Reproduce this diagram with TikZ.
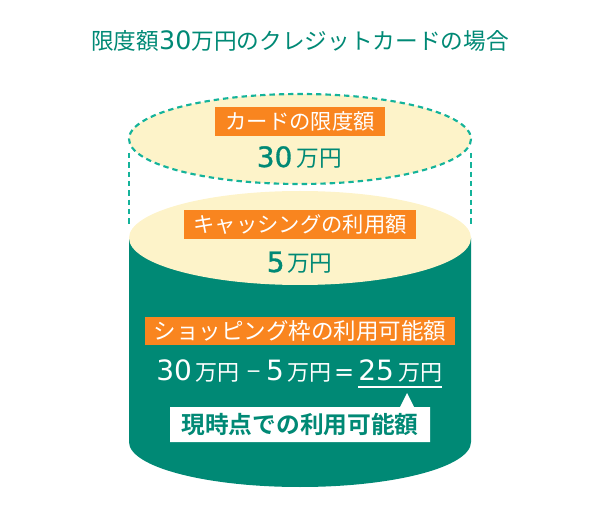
\documentclass[tikz,border=0pt]{standalone}
\usepackage{fontspec}
\setmainfont{Noto Sans CJK JP}
\newfontfamily\jpb{Noto Sans CJK JP Bold}
\newfontfamily\numf{DejaVu Sans}
\newfontfamily\numm[FakeBold=1.1]{DejaVu Sans}
\definecolor{teal1}{HTML}{008975}
\definecolor{dash1}{HTML}{14B39A}
\definecolor{cream}{HTML}{FDF3C9}
\definecolor{orange1}{HTML}{F9851F}
\newcommand{\fs}[1]{\fontsize{#1}{#1}\selectfont}
\tikzset{
  lab/.style={inner sep=0pt,text=white},
  tagbox/.style={fill=orange1,draw=none},
  val/.style={inner sep=0pt,text=teal1},
  dashline/.style={draw=dash1,line width=1.6pt,dash pattern=on 4pt off 3pt}
}
\begin{document}
\begin{tikzpicture}[x=0.75pt,y=-0.75pt]
\useasboundingbox (0,0) rectangle (600,520);
% upper, dashed disc
\path[fill=cream] (300,139) ellipse [x radius=171,y radius=45];
\draw[dashline] (300,139) ellipse [x radius=171,y radius=45];
\draw[dashline] (129,153) -- (129,225);
\draw[dashline] (471,153) -- (471,225);
% cylinder
\path[fill=teal1] (129,238) -- (129,442) arc [start angle=180,end angle=0,x radius=171,y radius=45] -- (471,238) -- cycle;
\path[fill=cream] (300,238) ellipse [x radius=171,y radius=47];
% title
\node[val] (title) at (300,41) {\fs{17}限度額{\numf\fs{19}30}万円のクレジットカードの場合};
% orange tags
\path[tagbox] (215,107) rectangle (385,136);
\node[lab] (t1) at (300,121.5) {\fs{16}カードの限度額};
\node[val,anchor=base west] (v1) at (256.5,167) {\fs{17}{\numm\fs{21}30}\hspace{3pt}万円};
\path[tagbox] (184,210) rectangle (416,239);
\node[lab] (t2) at (300,224.5) {\fs{16}キャッシングの利用額};
\node[val,anchor=base west] (v2) at (266.5,272) {\fs{17}{\numm\fs{21}5}\hspace{2pt}万円};
\path[tagbox] (145,317) rectangle (455,345);
\node[lab] (t3) at (300,331) {\fs{16.9}ショッピング枠の利用可能額};
% equation
\node[lab,anchor=base west] (eq) at (156,380) {\fs{16.5}{\numf\fs{21}30}\hspace{3pt}万円\hspace{4.5pt}{\numf\fs{14}\raisebox{1.8pt}{−}}\hspace{3.4pt}{\numf\fs{21}5}\hspace{2.8pt}万円\hspace{1.9pt}{\numf\fs{18}=}\hspace{3pt}{\numf\fs{21}25}\hspace{3.75pt}万円};
\draw[white,line width=1.5pt] (358,387) -- (442,387);
% white callout
\path[fill=white] (170,407) -- (400,407) -- (407,393) -- (414,407) -- (430,407) -- (430,442) -- (170,442) -- cycle;
\node[val] (note) at (300,425) {\jpb\fs{17.8}現時点での利用可能額};
\end{tikzpicture}
\end{document}
